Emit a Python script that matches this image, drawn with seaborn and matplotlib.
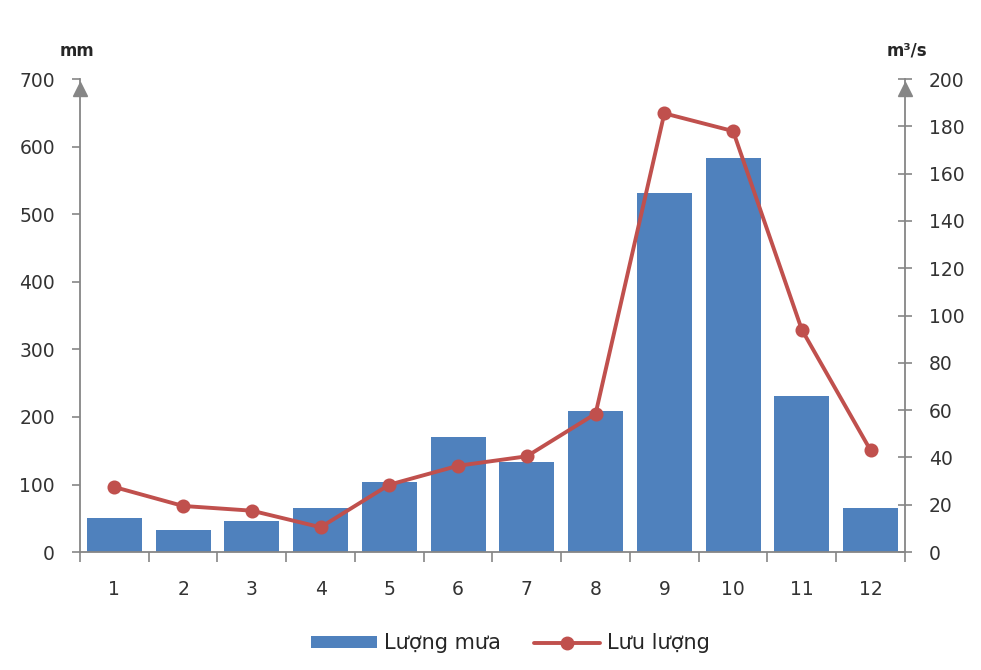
import numpy as np
import pandas as pd
import matplotlib
matplotlib.use("Agg")
import matplotlib.pyplot as plt
import seaborn as sns
from matplotlib.patches import Patch
from matplotlib.lines import Line2D


months = [str(m) for m in range(1, 13)]
rain_mm = [50, 33, 46, 65, 104, 170, 133, 209, 531, 583, 231, 65]
flow_m3s = [27.5, 19.5, 17.5, 10.5, 28.5, 36.5, 40.5, 58.5, 185.5, 178, 94, 43]

bar_color = "#4F81BD"
line_color = "#C0504D"
axis_gray = "#868686"
text_gray = "#333333"

sns.set_theme(style="white")
plt.rcParams["font.family"] = ["DejaVu Sans"]

df = pd.DataFrame({"month": months, "rain": rain_mm, "flow": flow_m3s})

fig = plt.figure(figsize=(9.81, 6.70), dpi=100)
ax = fig.add_axes([0.0815, 0.176, 0.841, 0.706])

sns.barplot(data=df, x="month", y="rain", color=bar_color, width=0.8,
            saturation=1, linewidth=0, edgecolor="none", ax=ax)
ax.set_ylim(0, 700)
ax.set_xlim(-0.5, 11.5)
ax.set_yticks(range(0, 701, 100))
ax.set_xlabel("")
ax.set_ylabel("")

ax2 = ax.twinx()
sns.pointplot(data=df, x="month", y="flow", color=line_color, markers="o",
              markersize=8, linewidth=2.8, ax=ax2)
ax2.set_ylim(0, 200)
ax2.set_yticks(range(0, 201, 20))
ax2.set_xlim(-0.5, 11.5)
ax2.set_ylabel("")

for a in (ax, ax2):
    for s in a.spines.values():
        s.set_visible(False)

ax.spines["left"].set_visible(True)
ax.spines["bottom"].set_visible(True)
ax2.spines["right"].set_visible(True)
for s in (ax.spines["left"], ax.spines["bottom"], ax2.spines["right"]):
    s.set_color(axis_gray)
    s.set_linewidth(1.3)

# x ticks between categories
ax.set_xticks(np.arange(-0.5, 12, 1), minor=True)
ax.tick_params(axis="x", which="major", length=0, pad=20, labelsize=13.5,
               labelcolor=text_gray)
ax.tick_params(axis="x", which="minor", length=7, width=1.2, color=axis_gray,
               direction="out", bottom=True)
ax.tick_params(axis="y", length=6, width=1.2, color=axis_gray, direction="out",
               left=True, pad=12, labelsize=13.5, labelcolor=text_gray)
ax2.tick_params(axis="y", length=10, width=1.2, color=axis_gray,
                direction="inout", right=True, pad=12, labelsize=13.5,
                labelcolor=text_gray)

# arrow heads at the top of the vertical axes
ax.plot([0], [0.98], marker="^", markersize=10, color=axis_gray,
        transform=ax.transAxes, clip_on=False)
ax2.plot([1], [0.98], marker="^", markersize=10, color=axis_gray,
         transform=ax2.transAxes, clip_on=False)

fig.text(0.078, 0.924, "mm", ha="center", va="center", fontsize=12,
         fontweight="bold", color="#262626")
fig.text(0.924, 0.924, "m³/s", ha="center", va="center", fontsize=12,
         fontweight="bold", color="#262626")

handles = [
    Patch(facecolor=bar_color, edgecolor="none"),
    Line2D([0], [0], color=line_color, lw=2.8, marker="o", markersize=9),
]
fig.legend(handles, ["Lượng mưa", "Lưu lượng"], loc="center",
           bbox_to_anchor=(0.52, 0.04), ncol=2, frameon=False, fontsize=15,
           handlelength=3.2, handleheight=0.5, handletextpad=0.3,
           columnspacing=1.6)

fig.savefig("out.png", dpi=100)
